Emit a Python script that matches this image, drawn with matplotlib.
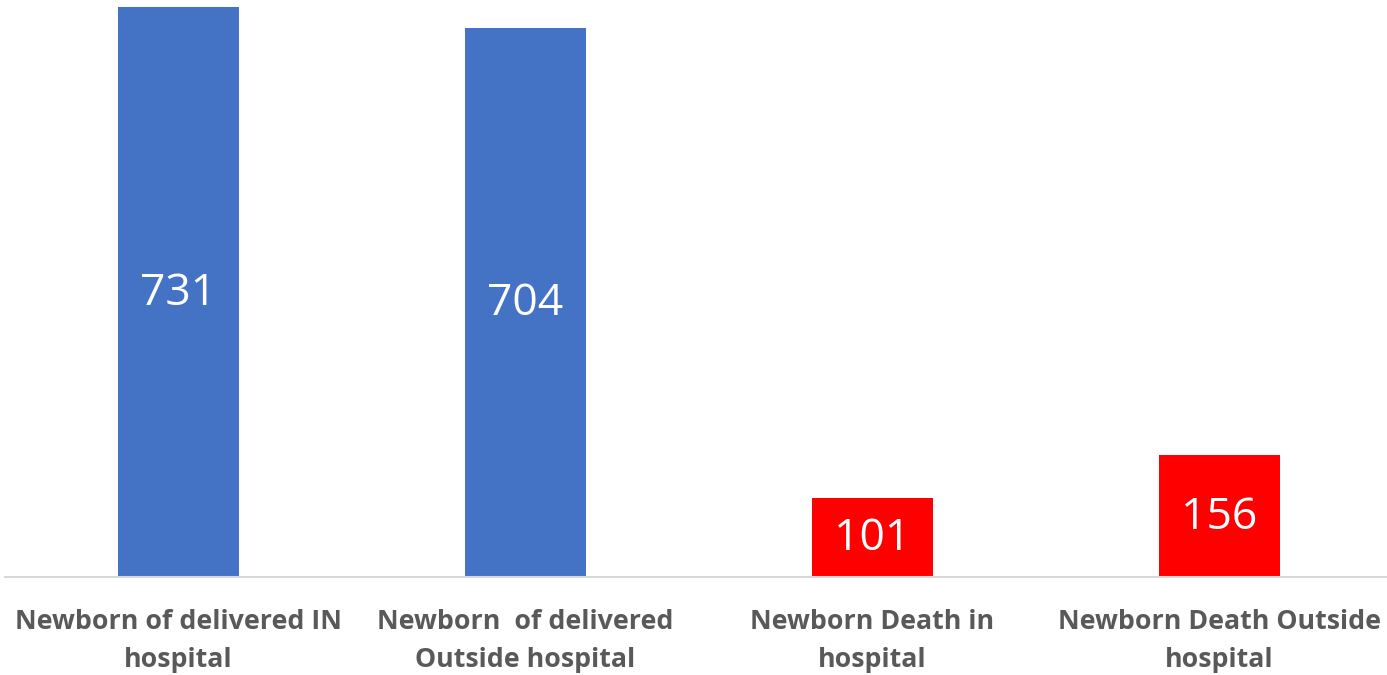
import matplotlib.pyplot as plt

# データ
categories = ["Newborn of delivered IN\nhospital",
              "Newborn  of delivered\nOutside hospital",
              "Newborn Death in\nhospital",
              "Newborn Death Outside\nhospital"]
values = [731, 704, 101, 156]
colors = ["#4472C4", "#4472C4", "#FF0000", "#FF0000"]

plt.rcParams['font.family'] = ['Open Sans', 'DejaVu Sans']

fig = plt.figure(figsize=(13.87, 6.75), dpi=100)
ax = fig.add_axes([5 / 1387, 98 / 675, 1388 / 1387, 577 / 675])

x = range(len(values))
bars = ax.bar(x, values, width=0.35, color=colors)

# 値ラベル (棒の中央)
for b, v in zip(bars, values):
    ax.text(b.get_x() + b.get_width() / 2, v / 2 - 2, str(v),
            ha="center", va="center", color="white", fontsize=32)

ax.set_xlim(-0.5, 3.5)
ax.set_ylim(0, 740)
ax.set_xticks(list(x))
ax.set_xticklabels(categories, fontsize=19.3, fontweight="bold", color="#595959",
                   linespacing=1.6)
ax.tick_params(axis="x", length=0, pad=23)
ax.set_yticks([])
for s in ["top", "right", "left"]:
    ax.spines[s].set_visible(False)
ax.spines["bottom"].set_color("#D9D9D9")
ax.spines["bottom"].set_linewidth(1.5)

fig.savefig("out.png", dpi=100)
